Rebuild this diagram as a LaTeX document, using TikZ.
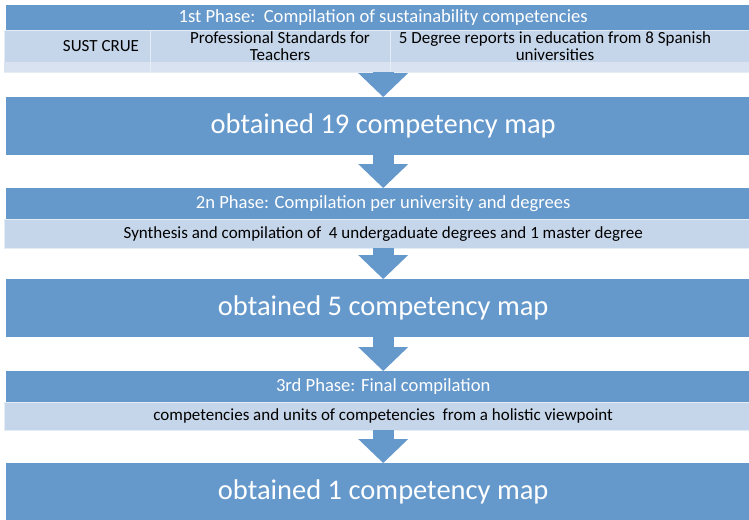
\documentclass[tikz,border=0pt]{standalone}
\usepackage{fontspec}
\setmainfont{Carlito}
\usepackage{xcolor}
\usepackage{tikz}
\usetikzlibrary{arrows.meta,positioning}
\definecolor{phaseblue}{RGB}{101,152,203}
\definecolor{rowblue}{RGB}{198,214,234}
\definecolor{rowpale}{RGB}{216,226,240}
\definecolor{rowline}{RGB}{228,236,246}

\begin{document}
\begin{tikzpicture}[
  x=1pt, y=-1pt,
  phase/.style={anchor=north west, fill=phaseblue, inner sep=0pt, minimum width=754pt, text=white, font=\fontsize{18.6}{20}\selectfont},
  subrow/.style={anchor=north west, fill=rowblue, draw=rowline, inner sep=0pt, minimum width=758pt, font=\fontsize{17}{18}\selectfont},
  mapbox/.style={anchor=north west, fill=phaseblue, inner sep=0pt, minimum width=754pt, minimum height=58pt, text=white, font=\fontsize{28.5}{30}\selectfont},
  cell/.style={align=center, font=\fontsize{17}{17}\selectfont},
  flow/.style={draw=phaseblue, line width=21pt, -{Triangle[length=24pt, width=50pt, line width=0pt]}}
]
  \clip (0,0) rectangle (749,519);
  \fill[white] (0,0) rectangle (749,519);

  % phase 1
  \node[phase, minimum height=25pt] (hdr1) at (6,5) {1st Phase:\ \ Compilation of sustainability competencies};
  \node[subrow, minimum height=42pt] (sub1) at (4,30) {};
  \fill[rowpale] (sub1.south west) rectangle ([yshift=10pt]sub1.south east);
  \draw[rowline, thick] (150,30) -- (150,72);
  \draw[rowline, thick] (390,30) -- (390,72);
  \node[cell] (sust) at (101,46) {SUST CRUE};
  \node[cell] (pst) at (280,46) {Professional Standards for\\Teachers};
  \node[cell] (degrep) at (555,46) {5 Degree reports in education from 8 Spanish\\universities};
  \node[mapbox] (map1) at (6,97) {obtained 19 competency map};

  % phase 2
  \node[phase, minimum height=31pt] (hdr2) at (6,188) {2n Phase: Compilation per university and degrees};
  \node[subrow, minimum height=29pt] (sub2) at (4,219) {Synthesis and compilation of\ \ 4 undergaduate degrees and 1 master degree};
  \node[mapbox] (map2) at (6,279) {obtained 5 competency map};

  % phase 3
  \node[phase, minimum height=31pt] (hdr3) at (6,371) {3rd Phase: Final compilation};
  \node[subrow, minimum height=28pt] (sub3) at (4,402) {competencies and units of competencies\ \ from a holistic viewpoint};
  \node[mapbox] (map3) at (6,463) {obtained 1 competency map};

  \draw[flow] (sub1.south) -- (map1.north);
  \draw[flow] (map1.south) -- (hdr2.north);
  \draw[flow] (sub2.south) -- (map2.north);
  \draw[flow] (map2.south) -- (hdr3.north);
  \draw[flow] (sub3.south) -- (map3.north);
\end{tikzpicture}
\end{document}
